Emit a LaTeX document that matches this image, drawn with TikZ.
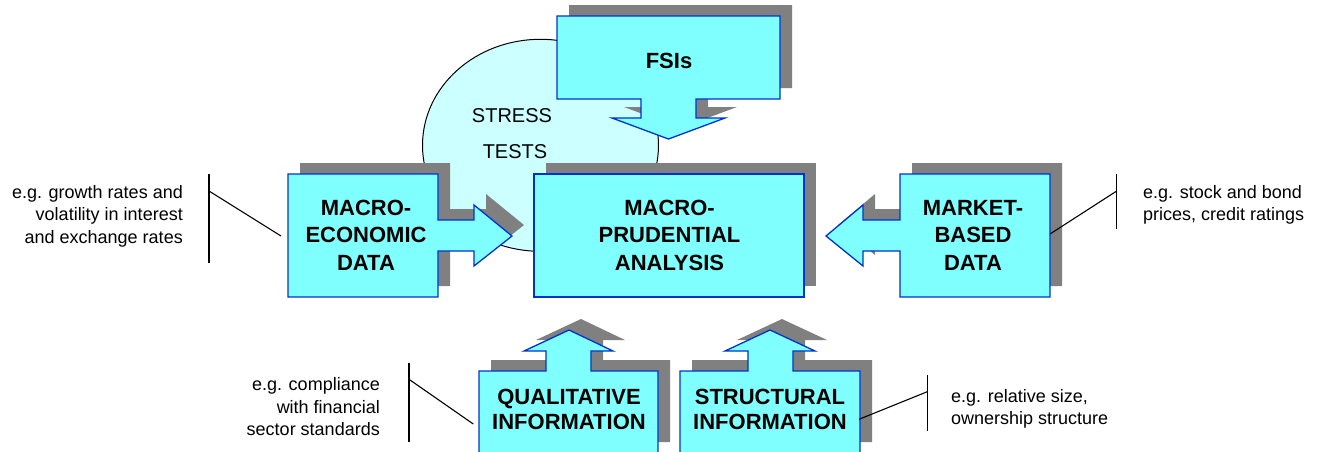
\documentclass[tikz,border=0pt]{standalone}
\usepackage{fontspec}
\setmainfont{Liberation Sans}
\usetikzlibrary{shapes.geometric}

\definecolor{facecyan}{HTML}{80FFFF}
\definecolor{palecyan}{HTML}{CCFFFF}
\definecolor{edgeblue}{HTML}{0033CC}
\definecolor{shadowgray}{HTML}{808080}

\tikzset{
  face/.style={fill=facecyan, draw=edgeblue, line width=1.3pt, line join=miter},
  dropshadow/.style={fill=shadowgray, xshift=12pt, yshift=11pt},
  boxtext/.style={font=\fontsize{22}{27.5}\selectfont\bfseries, align=center, inner sep=0pt},
  lowtext/.style={font=\fontsize{22}{24.5}\selectfont\bfseries, align=center, inner sep=0pt},
  stresstext/.style={font=\fontsize{20}{24}\selectfont, inner sep=0pt},
  note/.style={font=\fontsize{18}{22.5}\selectfont, inner sep=0pt},
  leader/.style={draw=black, line width=1.1pt},
}
% shape with its grey drop shadow offset up and to the right
\newcommand\callout[1]{\path[dropshadow] #1; \path[face] #1;}

\begin{document}
\begin{tikzpicture}[x=1pt, y=-1pt]
\useasboundingbox (0,0) rectangle (1320,451);

% stress-test ellipse in the background
\node[ellipse, draw=black, line width=1pt, fill=palecyan,
      minimum width=236pt, minimum height=212pt, inner sep=0pt] (stress) at (540.5,145.3) {};
\node[stresstext] (stressA) at (512,116) {STRESS};
\node[stresstext] (stressB) at (515,152) {TESTS};

% FSIs: box with arrow pointing down
\callout{(557,16) -- (780,16) -- (780,99) -- (696,99) -- (696,118) -- (725,118)
  -- (668.5,139) -- (612,118) -- (641,118) -- (641,99) -- (557,99) -- cycle}
\node[boxtext] (fsi) at (669,61) {FSIs};

% macro-economic data: arrow pointing right
\callout{(288,174) -- (438,174) -- (438,220) -- (474,220) -- (474,205) -- (512,236)
  -- (474,266) -- (474,251) -- (438,251) -- (438,297) -- (288,297) -- cycle}
\node[boxtext] (macro) at (366,235) {MACRO-\\ECONOMIC\\DATA};

% central analysis box
\callout{(534,174) -- (804,174) -- (804,297) -- (534,297) -- cycle}
\node[boxtext] (prud) at (669.5,235) {MACRO-\\PRUDENTIAL\\ANALYSIS};

% market-based data: arrow pointing left
\callout{(900,174) -- (1050,174) -- (1050,297) -- (900,297) -- (900,251) -- (863,251)
  -- (863,266) -- (826,236) -- (863,205) -- (863,220) -- (900,220) -- cycle}
\node[boxtext] (market) at (973,235) {MARKET-\\BASED\\DATA};

% qualitative information: arrow pointing up
\callout{(479,453) -- (479,371) -- (546,371) -- (546,351) -- (524,351) -- (569,330)
  -- (613,351) -- (591,351) -- (591,371) -- (658,371) -- (658,453) -- cycle}
\node[lowtext] (qual) at (569,409.5) {QUALITATIVE\\INFORMATION};

% structural information: arrow pointing up
\callout{(680,453) -- (680,371) -- (748,371) -- (748,351) -- (725,351) -- (770,330)
  -- (815,351) -- (793,351) -- (793,371) -- (860,371) -- (860,453) -- cycle}
\node[lowtext] (struct) at (770,409.5) {STRUCTURAL\\INFORMATION};

% annotation brackets
\coordinate (lbTop) at (209,174);   \coordinate (lbBot) at (209,263);
\coordinate (lbKnee) at (209,191);  \coordinate (lbEnd) at (281,236);
\coordinate (rbTop) at (1116.7,174); \coordinate (rbBot) at (1116.7,229.3);
\coordinate (rbKnee) at (1116.7,191); \coordinate (rbEnd) at (1050,234);
\coordinate (qbTop) at (409,362.7); \coordinate (qbBot) at (409,441.7);
\coordinate (qbKnee) at (409,379.3); \coordinate (qbEnd) at (473.3,424);
\coordinate (sbTop) at (927.3,375); \coordinate (sbBot) at (927.3,431);
\coordinate (sbKnee) at (927.3,391.7); \coordinate (sbEnd) at (859,419.3);

\draw[leader] (lbTop) -- (lbBot);  \draw[leader] (lbKnee) -- (lbEnd);
\draw[leader] (rbTop) -- (rbBot);  \draw[leader] (rbKnee) -- (rbEnd);
\draw[leader] (qbTop) -- (qbBot);  \draw[leader] (qbKnee) -- (qbEnd);
\draw[leader] (sbTop) -- (sbBot);  \draw[leader] (sbKnee) -- (sbEnd);

% annotation texts
\node[note, align=right, anchor=east] (lnote) at (183,216)
  {e.g. growth rates and\\volatility in interest\\and exchange rates};
\node[note, align=left, anchor=west] (rnote) at (1143,205)
  {e.g. stock and bond\\prices, credit ratings};
\node[note, align=right, anchor=east] (qnote) at (380,407)
  {e.g. compliance\\with financial\\sector standards};
\node[note, align=left, anchor=west] (snote) at (951,409)
  {e.g. relative size,\\ownership structure};
\end{tikzpicture}
\end{document}
